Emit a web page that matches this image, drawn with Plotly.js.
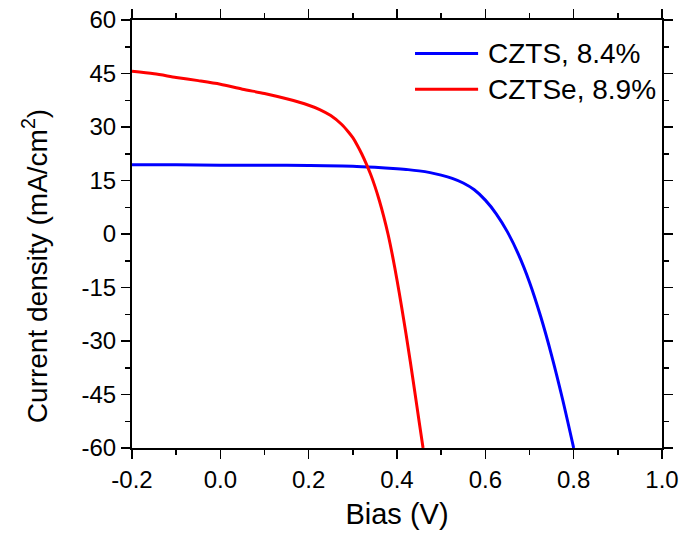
<!DOCTYPE html>
<html>
<head>
<meta charset="utf-8">
<script src="https://cdn.plot.ly/plotly-3.0.1.min.js"></script>
<style>html,body{margin:0;padding:0;background:#fff;}#chart{width:693px;height:537px;}</style>
</head>
<body>
<div id="chart"></div>
<script>
// CZTS, 8.4%
const czts_v = [-0.2, -0.1, 0.0, 0.1, 0.2, 0.3, 0.35, 0.4, 0.425, 0.45, 0.475, 0.5, 0.525, 0.55, 0.575, 0.6, 0.625, 0.65, 0.675, 0.7, 0.725, 0.75, 0.775, 0.8];
const czts_j = [19.4, 19.4, 19.3, 19.3, 19.2, 19.0, 18.7, 18.3, 18.05, 17.7, 17.2, 16.5, 15.6, 14.3, 12.4, 9.5, 5.6, 0.6, -5.7, -13.5, -23.0, -34.0, -46.4, -60.0];
// CZTSe, 8.9%
const cztse_v = [-0.2, -0.15, -0.1, -0.05, 0.0, 0.05, 0.1, 0.15, 0.2, 0.225, 0.25, 0.275, 0.29, 0.3, 0.31, 0.32, 0.33, 0.34, 0.35, 0.36, 0.37, 0.38, 0.39, 0.4, 0.41, 0.42, 0.43, 0.44, 0.45, 0.459];
const cztse_j = [45.6, 44.9, 43.9, 43.0, 42.0, 40.6, 39.4, 37.9, 36.1, 34.9, 33.2, 30.7, 28.6, 27.0, 24.9, 22.5, 19.8, 16.8, 13.35, 9.4, 4.9, -0.2, -6.2, -12.9, -20.1, -27.7, -35.7, -44.0, -52.5, -60.0];
const seriesNames = ["CZTS, 8.4%", "CZTSe, 8.9%"];
const seriesColors = ["#0000ff", "#ff0000"];
const xTicks = [-0.2, 0.0, 0.2, 0.4, 0.6, 0.8, 1.0];
const xTickText = ["-0.2", "0.0", "0.2", "0.4", "0.6", "0.8", "1.0"];
const yTicks = [-60, -45, -30, -15, 0, 15, 30, 45, 60];
const yTickText = ["-60", "-45", "-30", "-15", "0", "15", "30", "45", "60"];
const xTitle = "Bias (V)";
const yTitle = "Current density (mA/cm<sup>2</sup>)";

const FONT = "Liberation Sans, Arial, sans-serif";

const traces = [
  {x: czts_v, y: czts_j, name: seriesNames[0], type: "scatter", mode: "lines",
   line: {color: seriesColors[0], width: 3, shape: "spline", smoothing: 0.8}},
  {x: cztse_v, y: cztse_j, name: seriesNames[1], type: "scatter", mode: "lines",
   line: {color: seriesColors[1], width: 3, shape: "spline", smoothing: 0.8}}
];

// custom legend (decoration) placed in paper coordinates
const legY = [0.922, 0.838];
const shapes = [];
const annotations = [];
for (let i = 0; i < seriesNames.length; i++) {
  shapes.push({type: "line", xref: "paper", yref: "paper", x0: 0.534, x1: 0.653, y0: legY[i], y1: legY[i],
               line: {color: seriesColors[i], width: 3}});
  annotations.push({xref: "paper", yref: "paper", x: 0.668, y: legY[i], xanchor: "left", yanchor: "middle",
                    text: seriesNames[i], showarrow: false, font: {family: FONT, size: 28, color: "#000"}});
}
// y-axis title, placed as in the reference (slightly below the axis centre)
annotations.push({xref: "paper", yref: "paper", x: -0.184, y: 0.426, xanchor: "center", yanchor: "middle",
                  textangle: -90, text: yTitle, showarrow: false, font: {family: FONT, size: 28, color: "#000"}});

const axisCommon = {
  showline: true, linecolor: "#000", linewidth: 2, mirror: "ticks",
  ticks: "outside", ticklen: 9, tickwidth: 1.5, tickcolor: "#000",
  showgrid: false, zeroline: false,
  tickfont: {family: FONT, size: 24, color: "#000"}
};

const layout = {
  width: 693, height: 537,
  margin: {l: 132, r: 31, t: 20, b: 89},
  paper_bgcolor: "#fff", plot_bgcolor: "#fff",
  showlegend: false,
  xaxis: Object.assign({}, axisCommon, {
    range: [-0.2, 1.0], tickmode: "array", tickvals: xTicks, ticktext: xTickText,
    minor: {dtick: 0.1, tick0: -0.2, ticks: "outside", ticklen: 5, tickwidth: 1.5, tickcolor: "#000"},
    title: {text: xTitle, font: {family: FONT, size: 29, color: "#000"}, standoff: 12}
  }),
  yaxis: Object.assign({}, axisCommon, {
    range: [-60, 60], tickmode: "array", tickvals: yTicks, ticktext: yTickText,
    minor: {dtick: 7.5, tick0: -60, ticks: "outside", ticklen: 5, tickwidth: 1.5, tickcolor: "#000"}
  }),
  shapes: shapes,
  annotations: annotations
};

Plotly.newPlot("chart", traces, layout, {displayModeBar: false, staticPlot: true});
</script>
</body>
</html>
